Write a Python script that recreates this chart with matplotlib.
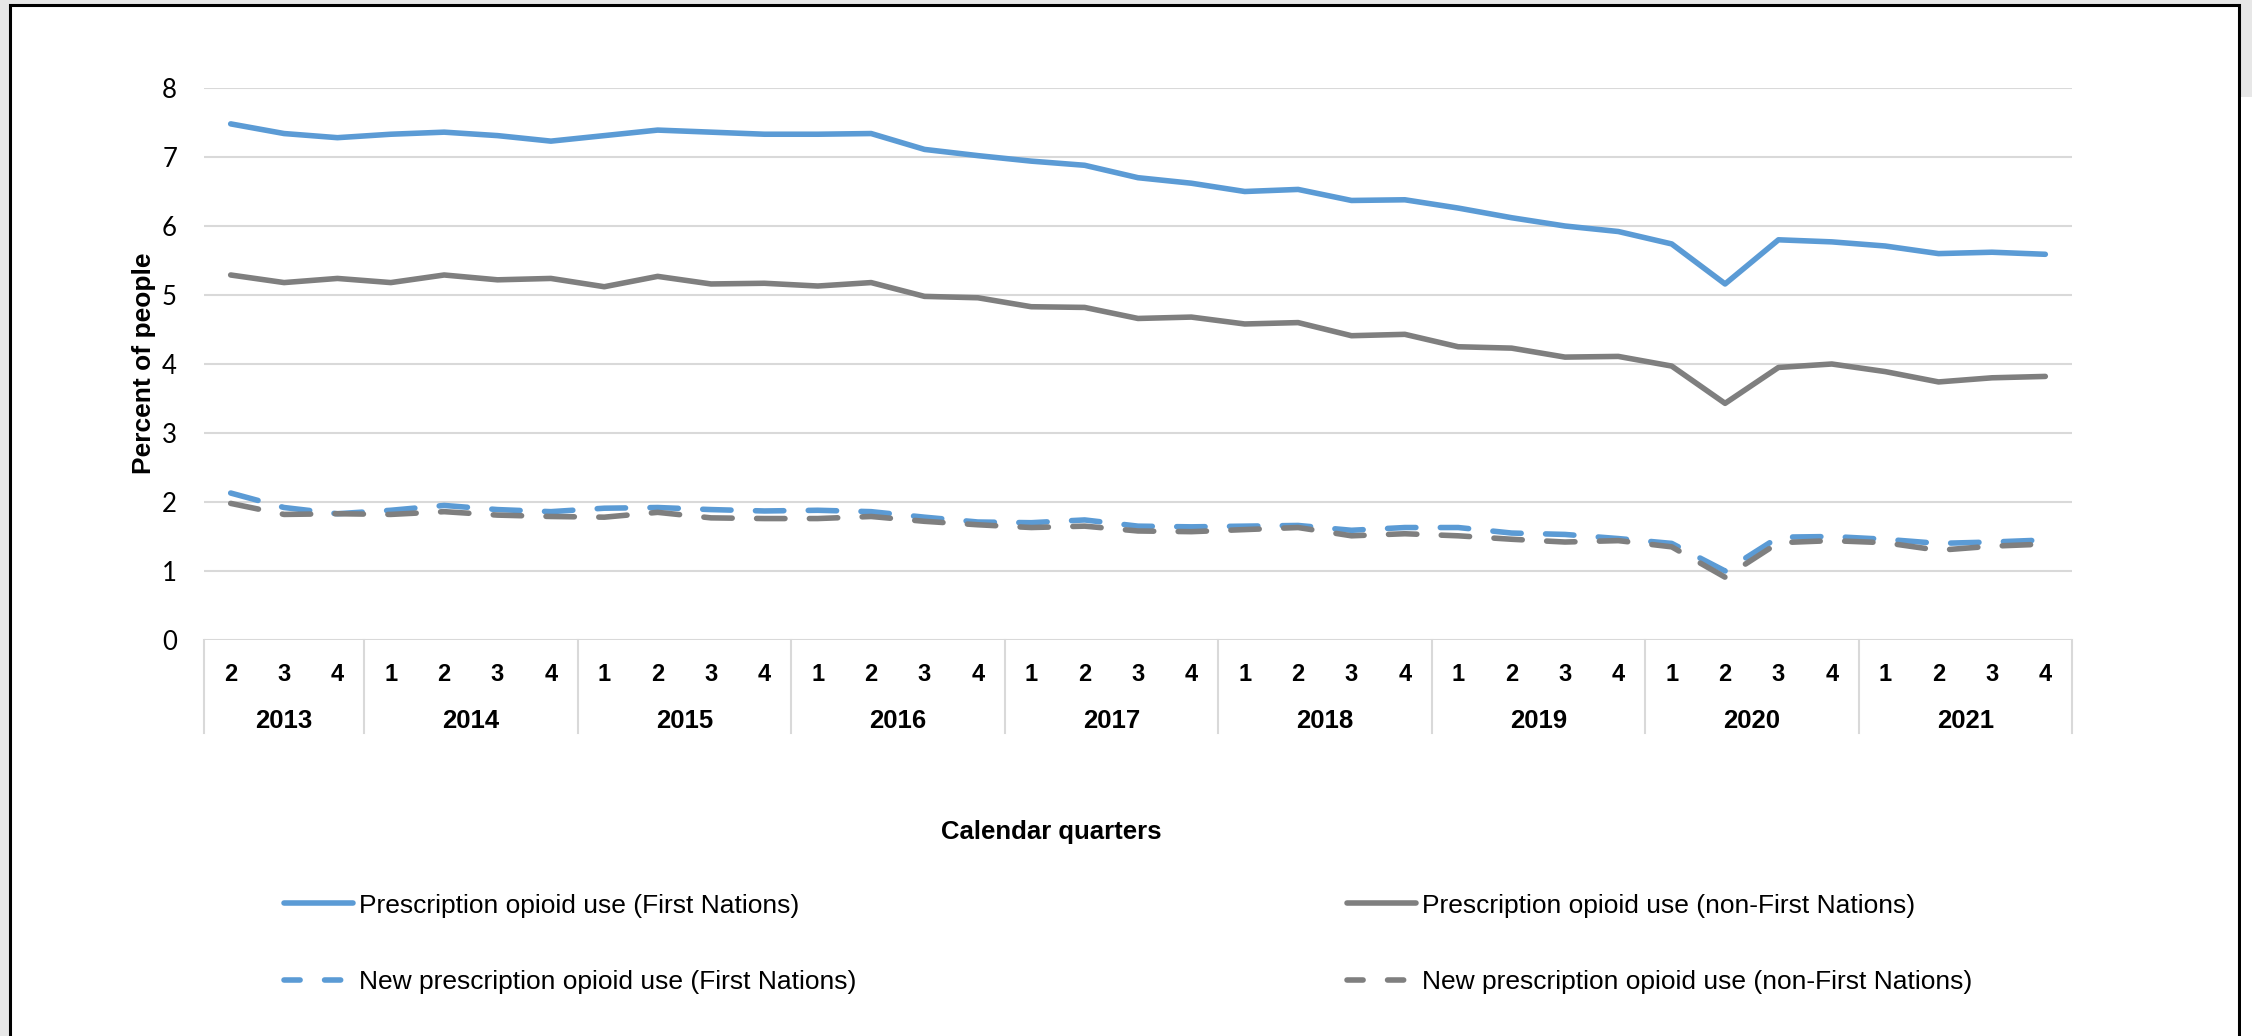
import matplotlib
matplotlib.use("Agg")
import matplotlib.pyplot as plt
from matplotlib.patches import Rectangle
from matplotlib.lines import Line2D
import numpy as np

quarters = ['2', '3', '4'] + ['1', '2', '3', '4'] * 8
years = ['2013', '2014', '2015', '2016', '2017', '2018', '2019', '2020', '2021']
quarters_per_year = [3, 4, 4, 4, 4, 4, 4, 4, 4]

fn_total = [7.48, 7.34, 7.28, 7.33, 7.36, 7.31, 7.23, 7.31, 7.39, 7.36, 7.33, 7.33,
            7.34, 7.11, 7.02, 6.94, 6.88, 6.70, 6.62, 6.50, 6.53, 6.37, 6.38, 6.26,
            6.12, 6.00, 5.92, 5.74, 5.16, 5.80, 5.77, 5.71, 5.60, 5.62, 5.59]
nonfn_total = [5.29, 5.18, 5.24, 5.18, 5.29, 5.22, 5.24, 5.12, 5.27, 5.16, 5.17, 5.13,
               5.18, 4.98, 4.96, 4.83, 4.82, 4.66, 4.68, 4.58, 4.60, 4.41, 4.43, 4.25,
               4.23, 4.10, 4.11, 3.97, 3.43, 3.95, 4.00, 3.89, 3.74, 3.80, 3.82]
fn_new = [2.13, 1.92, 1.83, 1.88, 1.95, 1.89, 1.86, 1.91, 1.92, 1.89, 1.87, 1.88,
          1.86, 1.78, 1.71, 1.70, 1.74, 1.65, 1.64, 1.65, 1.66, 1.59, 1.63, 1.63,
          1.55, 1.53, 1.47, 1.40, 1.00, 1.49, 1.50, 1.46, 1.40, 1.42, 1.45]
nonfn_new = [1.98, 1.82, 1.83, 1.82, 1.86, 1.81, 1.79, 1.78, 1.85, 1.77, 1.76, 1.76,
             1.79, 1.72, 1.67, 1.63, 1.65, 1.58, 1.57, 1.60, 1.63, 1.51, 1.54, 1.51,
             1.46, 1.42, 1.44, 1.35, 0.91, 1.41, 1.44, 1.41, 1.30, 1.36, 1.39]

labels = ['Prescription opioid use (First Nations)',
          'New prescription opioid use (First Nations)',
          'Prescription opioid use (non-First Nations)',
          'New prescription opioid use (non-First Nations)']

BLUE = '#5B9BD5'
GRAY = '#7F7F7F'
GRID = '#D9D9D9'

W, H = 2252, 1036
fig = plt.figure(figsize=(W / 100, H / 100), dpi=100)
fig.patch.set_facecolor('#E7E7E7')
# white chart area with black border
fig.patches.append(Rectangle((10 / W, -0.05), (2239 - 10) / W, 1.05 - 5 / H,
                             transform=fig.transFigure, facecolor='white',
                             edgecolor='black', linewidth=2.2, zorder=-10))
fig.patches.append(Rectangle((2241 / W, 0), (W - 2241) / W, 1 - 97 / H,
                             transform=fig.transFigure, facecolor='white',
                             edgecolor='none', zorder=-10))

left, right, top, bottom = 204, 2072, 88, 640
ax = fig.add_axes([left / W, 1 - bottom / H, (right - left) / W, (bottom - top) / H])
ax.set_facecolor('none')
ax.set_zorder(1)

x = np.arange(len(quarters))
lw = 4.0
plot_dash = (5.1, 4.4)
l1, = ax.plot(x, fn_total, color=BLUE, lw=lw, solid_capstyle='round',
              solid_joinstyle='round', label=labels[0], zorder=3)
l3, = ax.plot(x, nonfn_total, color=GRAY, lw=lw, solid_capstyle='round',
              solid_joinstyle='round', label=labels[2], zorder=3)
l2, = ax.plot(x, fn_new, color=BLUE, lw=lw, dashes=plot_dash, dash_capstyle='round',
              dash_joinstyle='round', label=labels[1], zorder=3)
l4, = ax.plot(x, nonfn_new, color=GRAY, lw=lw, dashes=plot_dash, dash_capstyle='round',
              dash_joinstyle='round', label=labels[3], zorder=3)

ax.set_xlim(-0.5, len(quarters) - 0.5)
ax.set_ylim(0, 8)
ax.set_yticks(range(0, 9))
ax.grid(axis='y', color=GRID, lw=1.5)
ax.set_axisbelow(True)
for s in ax.spines.values():
    s.set_visible(False)

ax.set_xticks(x)
ax.set_xticklabels(quarters, fontsize=17, fontweight='bold', family='Liberation Sans')
ax.tick_params(axis='x', length=0, pad=16.5)
ax.tick_params(axis='y', length=0, pad=19.4, labelsize=18.5, labelfontfamily='Lato')

# category separators and year labels
trans = ax.get_xaxis_transform()
ax_h = bottom - top
bounds = np.concatenate([[0], np.cumsum(quarters_per_year)]) - 0.5
for b in bounds:
    ax.plot([b, b], [0, -(733 - bottom) / ax_h], transform=trans, color=GRID,
            lw=1.5, clip_on=False, zorder=1)
for i, yr in enumerate(years):
    cx = (bounds[i] + bounds[i + 1]) / 2
    ax.text(cx, -(728 - bottom) / ax_h, yr, transform=trans, ha='center',
            va='baseline', fontsize=18.5, fontweight='bold', family='Liberation Sans')

ax.set_ylabel('Percent of people', fontsize=19, fontweight='bold', family='Liberation Sans')
ax.yaxis.set_label_coords(-(left - 156) / (right - left), (bottom - 363) / ax_h)
ax.set_xlabel('Calendar quarters', fontsize=18.5, fontweight='bold', family='Liberation Sans')
ax.xaxis.set_label_coords((1051 - left) / (right - left), -(820 - bottom) / ax_h)

# legend proxies (legend dash pattern is shorter, as in the original)
leg_dash = (2.9, 4.4)
h1 = Line2D([], [], color=BLUE, lw=lw, solid_capstyle='round')
h2 = Line2D([], [], color=BLUE, lw=lw, dashes=leg_dash, dash_capstyle='round')
h3 = Line2D([], [], color=GRAY, lw=lw, solid_capstyle='round')
h4 = Line2D([], [], color=GRAY, lw=lw, dashes=leg_dash, dash_capstyle='round')

legkw = dict(loc='center left', frameon=False, borderpad=0, borderaxespad=0,
             handlelength=2.6, handletextpad=0.25, labelspacing=2.0,
             prop={'family': 'Liberation Sans', 'size': 19})
fig.legend(handles=[h1, h2], labels=[labels[0], labels[1]],
           bbox_to_anchor=(284 / W, 1 - 944 / H), **legkw)
fig.legend(handles=[h3, h4], labels=[labels[2], labels[3]],
           bbox_to_anchor=(1347 / W, 1 - 944 / H), **legkw)

fig.savefig('out.png', dpi=100, facecolor=fig.get_facecolor())
